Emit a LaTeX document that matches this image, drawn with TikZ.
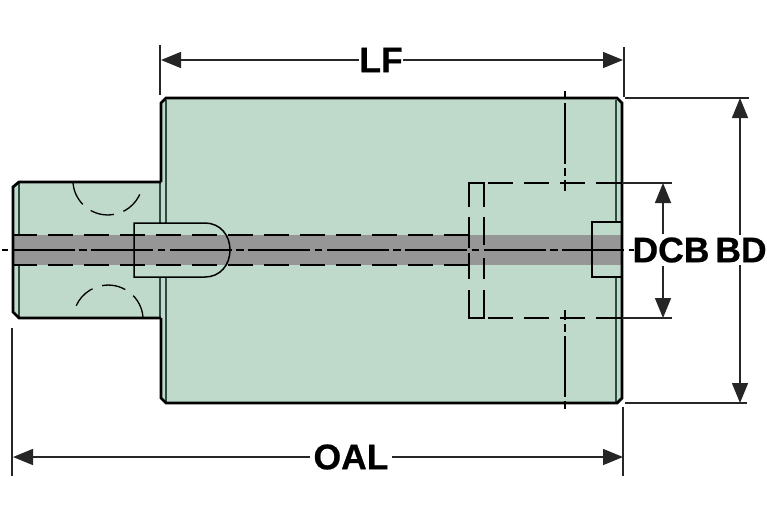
\documentclass[tikz,border=0pt]{standalone}
\usepackage{fontspec}
\setmainfont[BoldFeatures={FakeBold=0.6}]{Liberation Sans}
\usetikzlibrary{arrows.meta}
\definecolor{bodygreen}{HTML}{BFD9CB}
\definecolor{bandgrey}{HTML}{969696}
\definecolor{edgegreen}{HTML}{2F4A40}

\begin{document}
\begin{tikzpicture}[x=1pt,y=-1pt]
\tikzstyle{outline} = [line width=2.8pt, black]
\tikzstyle{thinedge} = [line width=1.2pt, edgegreen]
\tikzstyle{solidedge} = [line width=1.5pt, black]
\tikzstyle{hidden} = [line width=1.3pt, black, dash pattern=on 25pt off 11pt]
\tikzstyle{slotedge} = [line width=1.3pt, black]
\tikzstyle{centerline} = [line width=1.2pt, black, dash pattern=on 62pt off 4.5pt on 7.5pt off 4.5pt]
\tikzstyle{extline} = [line width=1.3pt, black!85]
\tikzstyle{dimline} = [line width=1.5pt, black!85, -{Triangle[length=20pt,width=16pt]}]
\tikzstyle{dimlabel} = [font=\fontsize{35.5}{37}\selectfont\bfseries, inner sep=3pt]

\useasboundingbox (0,0) rectangle (767,523);

\fill[bodygreen] (166,98) -- (617,98) -- (622,103) -- (622,398) -- (617,403) -- (166,403) -- (161,398) -- (161,103) -- cycle;
\fill[bodygreen] (161,182) -- (19,182) -- (13,187) -- (13,312) -- (19,318) -- (161,318) -- cycle;

\draw[thinedge] (19,183) -- (19,317);
\draw[thinedge] (166,100) -- (166,402);
\draw[thinedge] (160,182) -- (160,318);
\draw[thinedge] (616,100) -- (616,402);

\fill[bodygreen] (134,223) -- (134,277) -- (205,277)
	.. controls (220,277) and (230,265) .. (230,250)
	.. controls (230,235) and (220,223) .. (205,223) -- cycle;
\fill[bodygreen] (592,222) rectangle (621,277);

\fill[bandgrey] (13,235) rectangle (621,265);

\draw[solidedge] (134,223) -- (134,277) -- (205,277)
	.. controls (220,277) and (230,265) .. (230,250)
	.. controls (230,235) and (220,223) .. (205,223) -- cycle;
\draw[solidedge] (621,222) -- (592,222) -- (592,277) -- (621,277);

\draw[hidden] (12,235) -- (469,235);
\draw[hidden] (12,265) -- (469,265);
\draw[centerline, dash phase=68pt] (2,250) -- (634,250);

\draw[slotedge] (469,207) -- (469,183) -- (484,183) -- (484,207);
\draw[slotedge] (469,290) -- (469,318) -- (484,318) -- (484,290);
\draw[slotedge] (469,217) -- (469,248);
\draw[slotedge] (469,253) -- (469,279);
\draw[slotedge] (484,217) -- (484,245);
\draw[slotedge] (484,258) -- (484,279);
\draw[hidden] (488,183) -- (622,183);
\draw[hidden] (488,318) -- (622,318);
\draw[centerline, dash pattern=on 8pt off 4pt on 61pt off 4pt on 8pt off 4pt on 30pt off 30pt] (565,91) -- (565,191);
\draw[centerline, dash pattern=on 8pt off 4pt on 61pt off 4pt on 8pt off 4pt on 30pt off 30pt] (565,409) -- (565,310);

\draw[hidden, dash pattern=on 24pt off 10pt] (73,183) arc[start angle=175, end angle=20, radius=35];
\draw[hidden, dash pattern=on 24pt off 10pt] (143,317) arc[start angle=-5, end angle=-165, radius=35];

\draw[outline] (161,182) -- (161,103) -- (166,98) -- (617,98) -- (622,103) -- (622,398) -- (617,403) -- (166,403) -- (161,398) -- (161,318);
\draw[outline] (161,182) -- (19,182) -- (13,187) -- (13,312) -- (19,318) -- (161,318);

\coordinate (lfleft) at (161,60);
\coordinate (lfright) at (623,60);
\coordinate (oalleft) at (13,457);
\coordinate (oalright) at (623,457);
\coordinate (bdtop) at (740,98);
\coordinate (bdbottom) at (740,403);
\coordinate (dcbtop) at (663,183);
\coordinate (dcbbottom) at (663,318);

\node[dimlabel, inner sep=0pt] (lf) at (381,60) {LF};
\node[dimlabel] (oal) at (351,457) {OAL};
\node[dimlabel] (dcb) at (671,250) {DCB};
\node[dimlabel] (bd) at (741,250) {BD};

\draw[dimline] (lf) -- (lfleft);
\draw[dimline] (lf) -- (lfright);
\draw[dimline] (oal) -- (oalleft);
\draw[dimline] (oal) -- (oalright);
\draw[dimline] (bd.north -| bdtop) -- (bdtop);
\draw[dimline] (bd.south -| bdbottom) -- (bdbottom);
\draw[dimline] (dcb.north -| dcbtop) -- (dcbtop);
\draw[dimline] (dcb.south -| dcbbottom) -- (dcbbottom);

\draw[extline] (160,45) -- (160,95);
\draw[extline] (624,47) -- (624,97);
\draw[extline] (625,98) -- (749,98);
\draw[extline] (625,403) -- (747,403);
\draw[extline] (622,183) -- (672,183);
\draw[extline] (622,318) -- (672,318);
\draw[extline] (12,328) -- (12,476);
\draw[extline] (623,407) -- (623,476);

\end{tikzpicture}
\end{document}
